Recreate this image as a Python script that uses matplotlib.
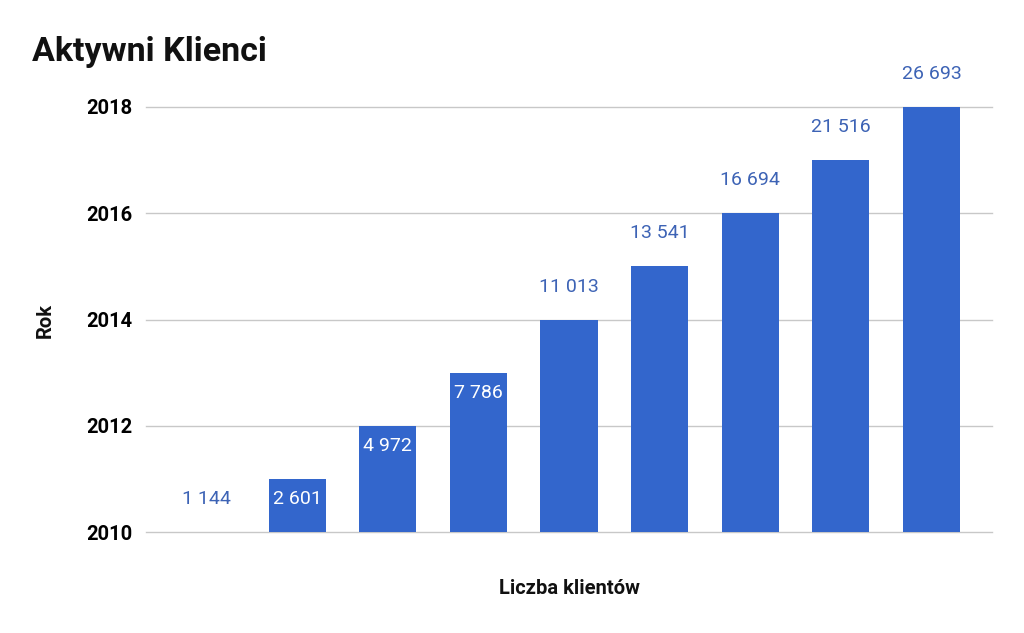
import matplotlib
matplotlib.use("Agg")
import matplotlib.pyplot as plt
from matplotlib.transforms import offset_copy

years = [2010, 2011, 2012, 2013, 2014, 2015, 2016, 2017, 2018]
clients = [1144, 2601, 4972, 7786, 11013, 13541, 16694, 21516, 26693]
label_inside = [False, True, True, True, False, False, False, False, False]
yticks = [2010, 2012, 2014, 2016, 2018]

plt.rcParams['font.family'] = ['Roboto', 'DejaVu Sans']

W, H = 1024, 633
fig = plt.figure(figsize=(W / 100, H / 100), dpi=100)
ax = fig.add_axes([146 / W, 1 - 532 / H, (992 - 146) / W, (532 - 107) / H])

bar_color = '#3366cc'
label_color = '#3d63b5'
x = list(range(len(years)))
base = years[0]
ax.bar(x, [y - base for y in years], bottom=base, width=0.63, color=bar_color, zorder=3)

ax.set_xlim(-0.667, len(years) - 1 + 0.667)
ax.set_ylim(yticks[0], yticks[-1])
ax.set_yticks(yticks)
ax.set_yticklabels([str(t) for t in yticks], fontsize=14.5, fontweight='bold')
ax.set_xticks([])
ax.tick_params(axis='y', length=0, pad=10)
ax.grid(axis='y', color='#c8c8c8', linewidth=1, zorder=0)
for gl in ax.get_ygridlines():
    gl.set_clip_on(False)
for s in ax.spines.values():
    s.set_visible(False)

def fmt(v):
    return f"{v:,}".replace(",", " ")

for xi, yv, c, inside in zip(x, years, clients, label_inside):
    if inside:
        tr = offset_copy(ax.transData, fig=fig, x=0, y=-20 * 0.72, units='points')
        ax.text(xi, yv, fmt(c), transform=tr, ha='center', va='center',
                color='white', fontsize=14, zorder=4)
    else:
        tr = offset_copy(ax.transData, fig=fig, x=0, y=33 * 0.72, units='points')
        ax.text(xi, yv, fmt(c), transform=tr, ha='center', va='center',
                color=label_color, fontsize=14, zorder=4, clip_on=False)

fig.text(32 / W, 1 - 52 / H, 'Aktywni Klienci', fontsize=24.5, fontweight='bold',
         ha='left', va='center', color='#111111')
fig.text(569 / W, 1 - 589 / H, 'Liczba klientów', fontsize=14.5, fontweight='bold',
         ha='center', va='center', color='#111111')
fig.text(45 / W, 1 - 320 / H, 'Rok', fontsize=14.5, fontweight='bold',
         ha='center', va='center', rotation=90, color='#111111')

fig.savefig('out.png', dpi=100, facecolor='white')
